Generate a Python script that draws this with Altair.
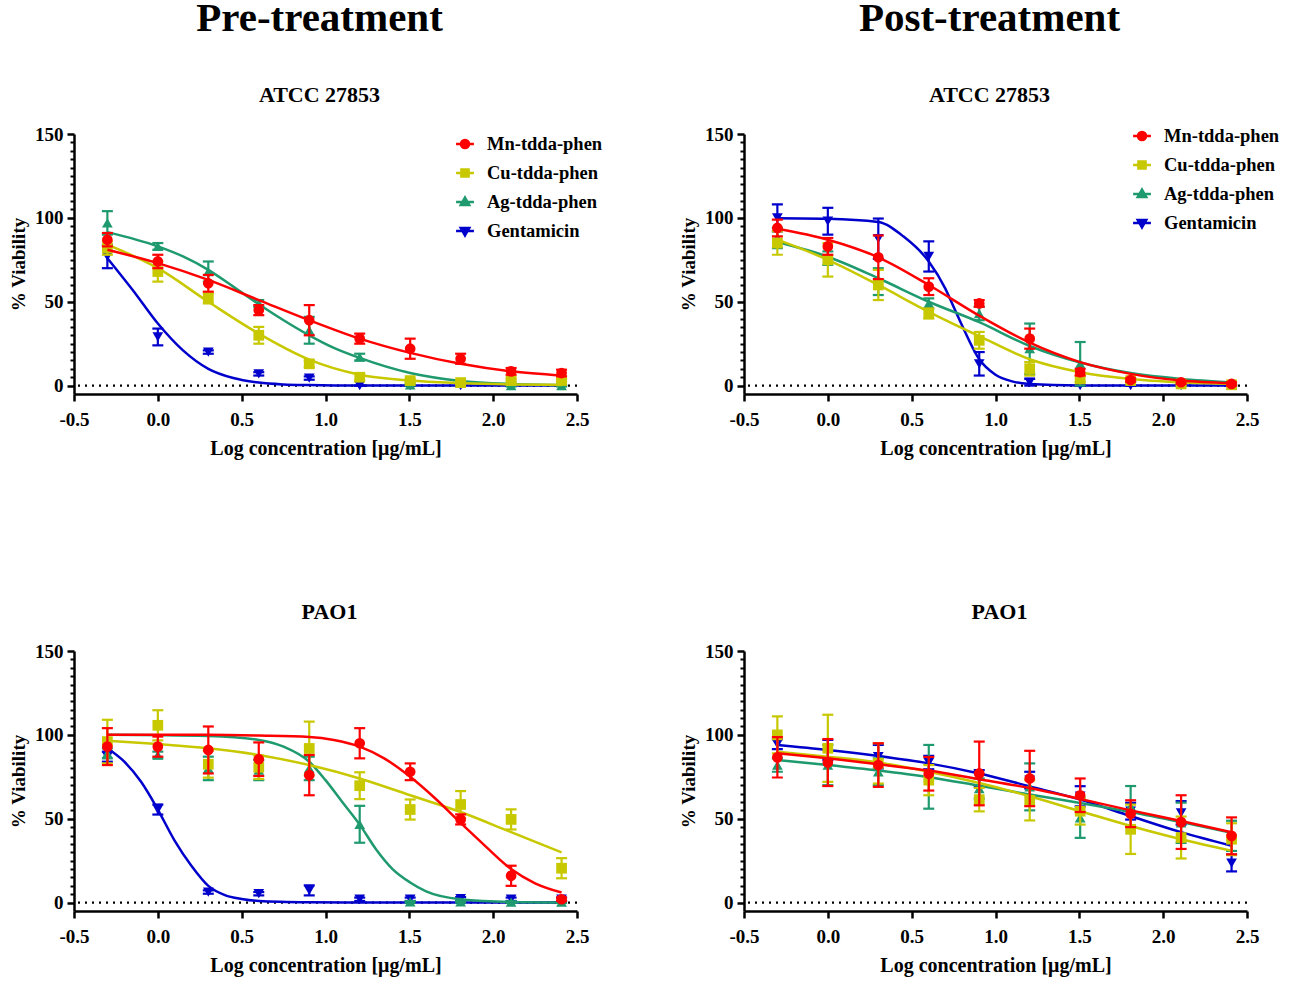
import altair as alt
import pandas as pd

FONT = "Liberation Serif"

SERIES = ["Mn-tdda-phen", "Cu-tdda-phen", "Ag-tdda-phen", "Gentamicin"]
COLORS = ["#FF0000", "#C8C800", "#1E9A6E", "#0000CC"]
SHAPES = ["circle", "square", "triangle-up", "triangle-down"]
# legend glyphs: a short line with the marker on it
LEGEND_SYMBOLS = [
    "M-1.05,0L1.05,0M0.48,0A0.48,0.48,0,1,1,-0.48,0A0.48,0.48,0,1,1,0.48,0Z",
    "M-1.05,0L1.05,0M-0.42,-0.42L0.42,-0.42L0.42,0.42L-0.42,0.42Z",
    "M-1.05,0L1.05,0M0,-0.52L0.5,0.36L-0.5,0.36Z",
    "M-1.05,0L1.05,0M0,0.52L0.5,-0.36L-0.5,-0.36Z",
]

LOG_CONC = [-0.301, 0.0, 0.301, 0.602, 0.903, 1.204, 1.505, 1.806, 2.107, 2.408]
X_TICKS = [-0.5, 0.0, 0.5, 1.0, 1.5, 2.0, 2.5]
Y_TICKS = [0, 5, 10, 15, 20, 25, 30, 35, 40, 45, 50, 55, 60, 65, 70, 75, 80, 85, 90, 95,
           100, 105, 110, 115, 120, 125, 130, 135, 140, 145, 150]

# ---------------- Pre-treatment, ATCC 27853 ----------------
PRE_ATCC_MEAN = [
    [87, 74, 61, 45, 39, 28, 22, 16, 8.5, 7.5],
    [82, 68, 52, 30, 13, 5, 3, 1.8, 3, 3],
    [97, 83, 68, 49, 33, 17, 0.5, 1.5, 0, 0],
    [77, 29, 20, 7, 4.5, 0, 0, 0, 0, 0],
]
PRE_ATCC_SD = [
    [4, 4, 5, 3, 9, 3, 6, 3, 2, 2],
    [4, 6, 3, 5, 2, 2, 1, 1, 1, 1],
    [7, 2, 6, 2, 8, 2, 0.5, 0.5, 0.5, 0.5],
    [7, 5, 1, 1, 1, 0, 0, 0, 0, 0],
]
PRE_ATCC_CX = [
    LOG_CONC,
    LOG_CONC,
    [-0.301, 0, 0.15, 0.301, 0.45, 0.602, 0.75, 0.903, 1.05, 1.204, 1.505, 1.806, 2.107, 2.408],
    [-0.301, -0.15, 0, 0.15, 0.301, 0.45, 0.602, 0.75, 0.903, 1.204, 1.505, 1.806, 2.107, 2.408],
]
PRE_ATCC_CY = [
    [81, 73, 63, 51, 39, 28, 19.5, 13, 8.5, 6],
    [84, 70, 50, 31, 15.5, 6.5, 3, 1.5, 0.7, 0.4],
    [91.5, 83, 77, 69, 59, 48.5, 39, 30, 22.5, 16.5, 7.5, 2.8, 1, 0.4],
    [76, 57, 37, 21, 10, 4.5, 1.8, 0.7, 0.3, 0, 0, 0, 0, 0],
]

# ---------------- Post-treatment, ATCC 27853 ----------------
POST_ATCC_MEAN = [
    [94, 83, 76.5, 59, 49, 28, 8, 3.3, 2, 1],
    [85, 75, 60, 43, 27, 10, 4, 3, 1, 0.5],
    [88, 76, 62, 49, 43, 22, 13, 3.3, 2, 0.5],
    [100, 98, 87.6, 77, 13, 2, 0, 0, 0, 0],
]
POST_ATCC_SD = [
    [5, 5, 13, 5, 2, 6, 2, 1, 1, 1],
    [7, 10, 9, 3, 5, 4, 2, 1, 1, 0.5],
    [6, 4, 8, 3, 4, 15, 13, 1, 1, 0.5],
    [8, 8, 12, 9, 7, 2, 0, 0, 0, 0],
]
POST_ATCC_CX = [
    LOG_CONC,
    LOG_CONC,
    LOG_CONC,
    [-0.301, 0, 0.301, 0.45, 0.602, 0.7, 0.75, 0.8, 0.903, 1.0, 1.1, 1.204, 1.505, 1.806, 2.107, 2.408],
]
POST_ATCC_CY = [
    [93.5, 87, 76.5, 60, 41.7, 25.6, 14, 7, 3, 1.4],
    [87, 75, 60, 44, 29.5, 15.7, 8, 4, 2, 1],
    [85.6, 76.8, 64, 50, 37.8, 23.6, 13.8, 7.5, 4, 2],
    [99.8, 99.5, 97.5, 89, 74, 58, 47, 36, 15.7, 6.5, 2.5, 1, 0.1, 0, 0, 0],
]

# ---------------- Pre-treatment, PAO1 ----------------
PRE_PAO1_MEAN = [
    [93, 93, 91, 85.5, 76, 95, 78, 49.6, 16, 2],
    [96, 105.7, 82.5, 80.7, 91.9, 69.7, 55.5, 58.5, 49.6, 20.5],
    [89, 88, 80, 79, 80, 46.7, 0.4, 0.5, 0.3, 0.3],
    [87, 55.5, 6.3, 5.3, 7.3, 2, 2, 2.3, 2, 2],
]
PRE_PAO1_SD = [
    [11, 6, 14, 10, 12, 9, 5, 3, 6, 1],
    [13, 9, 8, 7, 16, 8, 6, 8, 6, 6],
    [3, 2, 7, 6, 7, 11, 0.5, 0.5, 0.5, 0.5],
    [3, 3, 1, 1, 3, 1, 1, 1, 1, 1],
]
PRE_PAO1_CX = [
    [-0.301, 0.301, 0.602, 0.903, 1.05, 1.204, 1.35, 1.505, 1.65, 1.806, 1.95, 2.107, 2.25, 2.408],
    LOG_CONC,
    [-0.301, 0.301, 0.602, 0.75, 0.903, 1.0, 1.1, 1.204, 1.3, 1.4, 1.505, 1.6, 1.806, 2.107, 2.408],
    [-0.301, -0.2, -0.1, 0, 0.1, 0.2, 0.301, 0.4, 0.5, 0.602, 0.903, 1.204, 1.505, 1.806, 2.107, 2.408],
]
PRE_PAO1_CY = [
    [100, 100, 99.6, 98.8, 97, 93, 86, 75, 62.5, 47.5, 34, 20, 11.5, 6],
    [96.5, 94.5, 92, 88, 82, 74, 64, 54, 42, 30],
    [100, 99.3, 97, 93, 84, 73, 60, 46.5, 32, 20, 12, 6.7, 2, 0.4, 0.1],
    [92, 84, 72, 55.5, 37, 22, 10, 4.5, 2.2, 1, 0.2, 0, 0, 0, 0, 0],
]

# ---------------- Post-treatment, PAO1 ----------------
POST_PAO1_MEAN = [
    [86.6, 83.5, 82, 76.8, 77, 74, 64, 53, 48, 39.8],
    [100, 92, 83, 73, 61.4, 61, 54.5, 43.7, 38.8, 37.8],
    [82, 82, 78, 75, 68, 69, 50.6, 57.5, 47.6, 39.8],
    [94.5, 91, 87, 83.5, 74, 73, 63.4, 54.5, 53.5, 23.6],
]
POST_PAO1_SD = [
    [12, 14, 13, 10, 19, 16.5, 10, 8, 16, 11],
    [11, 20, 12, 9, 7, 12, 8, 14.7, 12.5, 9.5],
    [4, 12, 8, 19, 6, 14, 12, 12, 12, 9],
    [3, 6, 7, 4, 5, 5, 6, 5, 7, 5],
]
POST_PAO1_CX = [LOG_CONC, LOG_CONC, LOG_CONC, LOG_CONC]
POST_PAO1_CY = [
    [89, 86, 82.5, 78.7, 73.6, 68.3, 61.8, 55, 48.6, 42],
    [90, 87, 83.5, 78, 71.3, 63.4, 54.5, 45.7, 37.8, 31],
    [85, 82, 78.7, 74.8, 69.7, 64.4, 59.4, 54, 48, 41.7],
    [94, 91, 87.4, 83, 77, 69.3, 61.4, 51.6, 42, 33.9],
]

PANEL_W = 503
PANEL_H = 260
LW = 2.5

XS = alt.Scale(domain=[-0.5, 2.5], nice=False, zero=False)
YS = alt.Scale(domain=[-5, 150], nice=False, zero=False)

X_AXIS = alt.Axis(
    values=X_TICKS, title="Log concentration [μg/mL]", grid=False, labelFlush=False,
    labelExpr="datum.value < 0 ? '-' + format(-datum.value, '.1f') : format(datum.value, '.1f')",
    domainColor="black", domainWidth=LW, tickColor="black", tickWidth=LW, tickSize=7,
    labelFont=FONT, labelFontSize=19, labelFontWeight="bold", labelColor="black", labelPadding=9,
    titleFont=FONT, titleFontSize=20, titleFontWeight="bold", titleColor="black", titlePadding=9,
)
MAJOR = "datum.value % 50 === 0"
Y_AXIS = alt.Axis(
    values=Y_TICKS, title="% Viability", grid=False, orient="left", format="d", labelFlush=False,
    labelExpr=f"{MAJOR} ? datum.label : ''",
    domainColor="black", domainWidth=LW, tickColor="black",
    tickWidth={"condition": {"test": MAJOR, "value": LW}, "value": 2},
    tickSize={"condition": {"test": MAJOR, "value": 7}, "value": 4},
    labelFont=FONT, labelFontSize=19, labelFontWeight="bold", labelColor="black", labelPadding=4,
    titleFont=FONT, titleFontSize=19, titleFontWeight="bold", titleColor="black", titlePadding=6,
)


def xq(field):
    return alt.X(field, type="quantitative", scale=XS, axis=X_AXIS)


def yq(field):
    return alt.Y(field, type="quantitative", scale=YS, axis=Y_AXIS)


def panel(title, means, sds, cx, cy, section=None, legend_xy=None):
    zero_df = pd.DataFrame({"v": [0]})
    layers = [
        alt.Chart(zero_df).mark_rule(color="black", strokeDash=[2, 5], strokeWidth=2.2).encode(y=yq("v")),
    ]
    for i in reversed(range(4)):
        color = COLORS[i]
        pts = pd.DataFrame({"x": LOG_CONC, "m": means[i], "sd": sds[i]})
        pts["lo"] = pts["m"] - pts["sd"]
        pts["hi"] = pts["m"] + pts["sd"]
        crv = pd.DataFrame({"x": cx[i], "y": cy[i]})
        base = alt.Chart(pts)
        bars = base.mark_rule(color=color, strokeWidth=2.2).encode(x=xq("x"), y=yq("lo"), y2="hi:Q")
        caps = base.transform_fold(["lo", "hi"], as_=["k", "v"]).mark_tick(
            color=color, orient="horizontal", size=11, thickness=2.2, opacity=1
        ).encode(x=xq("x"), y=yq("v"))
        line = alt.Chart(crv).mark_line(color=color, strokeWidth=LW, interpolate="monotone").encode(
            x=xq("x"), y=yq("y"))
        dots = base.mark_point(filled=True, shape=SHAPES[i], size=115, color=color, opacity=1).encode(
            x=xq("x"), y=yq("m"))
        layers += [bars, caps, line, dots]

    if legend_xy is not None:
        lx, ly = legend_xy
        leg = dict(
            title=None, orient="none", legendX=lx, legendY=ly,
            labelFont=FONT, labelFontSize=18.5, labelFontWeight="bold", labelColor="black",
            symbolSize=289, symbolStrokeWidth=2.5, labelOffset=12, rowPadding=9,
        )
        ldf = pd.DataFrame({"series": SERIES})
        layers.append(
            alt.Chart(ldf).transform_filter("false").mark_point(filled=True, size=289, opacity=1, strokeWidth=2.5).encode(
                fill=alt.Fill("series:N", scale=alt.Scale(domain=SERIES, range=COLORS), legend=alt.Legend(**leg)),
                stroke=alt.Stroke("series:N", scale=alt.Scale(domain=SERIES, range=COLORS), legend=alt.Legend(**leg)),
                shape=alt.Shape("series:N", scale=alt.Scale(domain=SERIES, range=LEGEND_SYMBOLS), legend=alt.Legend(**leg)),
            )
        )

    if section is not None:
        ttl = alt.TitleParams(section, subtitle=title, font=FONT, fontSize=41, fontWeight="bold", color="black",
                              subtitleFont=FONT, subtitleFontSize=22, subtitleFontWeight="bold",
                              subtitleColor="black", subtitlePadding=45,
                              anchor="middle", frame="group", offset=18, dx=-6)
    else:
        ttl = alt.TitleParams(title, font=FONT, fontSize=22, fontWeight="bold", color="black",
                              anchor="middle", frame="group", offset=18, dx=4)

    return alt.layer(*layers).properties(width=PANEL_W, height=PANEL_H, title=ttl)


p1 = panel("ATCC 27853", PRE_ATCC_MEAN, PRE_ATCC_SD, PRE_ATCC_CX, PRE_ATCC_CY,
           section="Pre-treatment", legend_xy=(381, 0))
p2 = panel("ATCC 27853", POST_ATCC_MEAN, POST_ATCC_SD, POST_ATCC_CX, POST_ATCC_CY,
           section="Post-treatment", legend_xy=(388, -8))
p3 = panel("PAO1", PRE_PAO1_MEAN, PRE_PAO1_SD, PRE_PAO1_CX, PRE_PAO1_CY)
p4 = panel("PAO1", POST_PAO1_MEAN, POST_PAO1_SD, POST_PAO1_CX, POST_PAO1_CY)

chart = alt.concat(p1, p2, p3, p4, columns=2, spacing={"row": 143, "column": 76}).resolve_scale(
    fill="independent", stroke="independent", shape="independent"
).properties(
    padding={"left": 9, "top": -2, "right": 5, "bottom": 5}, background="white"
).configure_view(stroke=None)

chart.save("out.html", embed_options={"renderer": "svg", "actions": False})
